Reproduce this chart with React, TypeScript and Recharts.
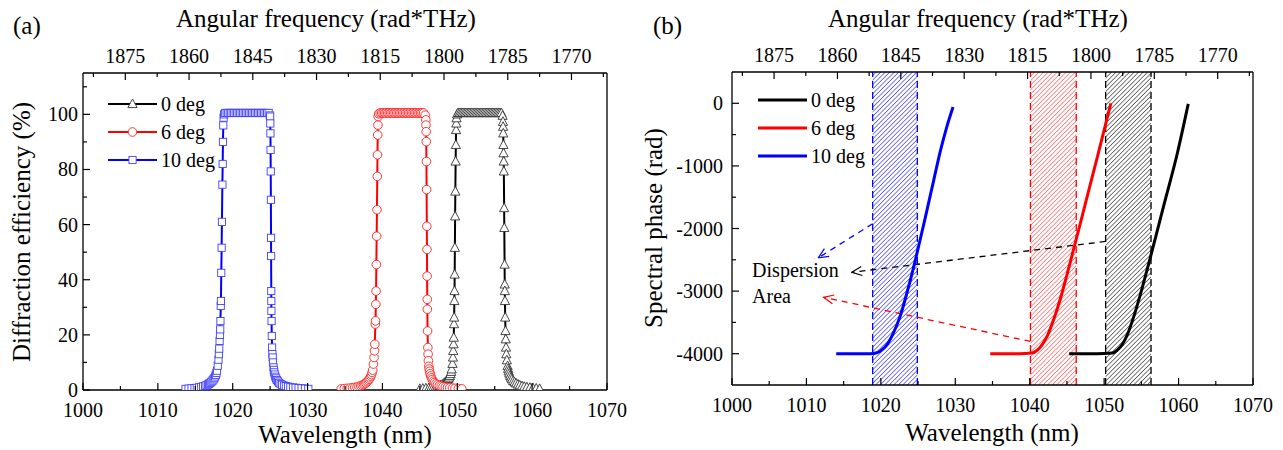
import React from 'react';
import { ComposedChart, Line, XAxis, YAxis, ReferenceArea, ReferenceLine, ReferenceDot, Legend } from 'recharts';

const FONT = '"Liberation Serif", "Times New Roman", serif';

type Pt = [number, number];

// axis ticks
const wlMajor = [1000, 1010, 1020, 1030, 1040, 1050, 1060, 1070];
const wlMinor = [1005, 1015, 1025, 1035, 1045, 1055, 1065];
const freqMajor = [1875, 1860, 1845, 1830, 1815, 1800, 1785, 1770];
const freqMinor = [1882.5, 1867.5, 1852.5, 1837.5, 1822.5, 1807.5, 1792.5, 1777.5, 1762.5];
const effMajor = [0, 20, 40, 60, 80, 100];
const effMinor = [10, 30, 50, 70, 90, 110];
const phaseMajor = [0, -1000, -2000, -3000, -4000];
const phaseMinor = [-500, -1500, -2500, -3500];

const seriesNames = ['0 deg', '6 deg', '10 deg'];

// (a) diffraction efficiency (%) vs wavelength (nm)
const eff0deg: Pt[] = [
  [1045.0, 0.4], [1045.4, 0.5], [1045.8, 0.6], [1046.2, 0.7], [1046.5, 0.8], [1046.8, 0.95], [1047.1, 1.1],
  [1047.35, 1.3], [1047.6, 1.5], [1047.8, 1.75], [1048.0, 2.0], [1048.2, 2.35], [1048.35, 2.7], [1048.5, 3.1],
  [1048.65, 3.5], [1048.8, 4.0], [1048.9, 4.5], [1049.0, 5.1], [1049.1, 5.8], [1049.18, 6.6], [1049.25, 7.5],
  [1049.35, 9.5], [1049.42, 11.8], [1049.46, 14.2],
  [1049.5, 16.6], [1049.53, 19], [1049.56, 23.9], [1049.58, 26.3], [1049.61, 32.3], [1049.63, 35.9], [1049.65, 41.9],
  [1049.68, 51.6], [1049.71, 63], [1049.74, 72], [1049.78, 82.9], [1049.81, 88.9], [1049.84, 94.3], [1049.87, 96.7],
  [1049.9, 98.6], [1049.97, 100],
  [1050.1, 100.5], [1050.3, 100.5], [1050.5, 100.5], [1050.7, 100.5], [1050.9, 100.5], [1051.1, 100.5],
  [1051.3, 100.5], [1051.5, 100.5], [1051.7, 100.5], [1051.9, 100.5], [1052.1, 100.5], [1052.3, 100.5],
  [1052.5, 100.5], [1052.7, 100.5], [1052.9, 100.5], [1053.1, 100.5], [1053.3, 100.5], [1053.5, 100.5],
  [1053.7, 100.5], [1053.9, 100.5], [1054.1, 100.5], [1054.3, 100.5], [1054.5, 100.5], [1054.7, 100.5],
  [1054.9, 100.5], [1055.1, 100.5], [1055.3, 100.5], [1055.5, 100.5], [1055.7, 100.5], [1055.9, 100.5],
  [1056.05, 99.5], [1056.1, 97.3], [1056.12, 95.5], [1056.14, 93.1], [1056.16, 88.9], [1056.18, 85.9], [1056.2, 82.9],
  [1056.22, 79.3], [1056.26, 66], [1056.28, 58.8], [1056.32, 45.5], [1056.34, 38.3], [1056.35, 35.9], [1056.37, 32.3],
  [1056.4, 26.3], [1056.44, 21.4], [1056.47, 18.4], [1056.51, 15.4], [1056.55, 13], [1056.62, 10.8], [1056.72, 8.7],
  [1056.79, 7.7], [1056.86, 6.8], [1056.95, 6.0], [1057.05, 5.2], [1057.17, 4.5], [1057.3, 3.9], [1057.47, 3.3],
  [1057.65, 2.8], [1057.85, 2.4], [1058.1, 2.0], [1058.35, 1.7], [1058.65, 1.4], [1058.95, 1.2], [1059.3, 1.0],
  [1059.7, 0.85], [1060.1, 0.7], [1060.55, 0.55], [1061.0, 0.4],
];

const eff6deg: Pt[] = [
  [1034.5, 0.4], [1034.9, 0.5], [1035.3, 0.6], [1035.7, 0.7], [1036.0, 0.8], [1036.3, 0.95], [1036.6, 1.1],
  [1036.85, 1.3], [1037.1, 1.5], [1037.3, 1.75], [1037.5, 2.0], [1037.65, 2.3], [1037.8, 2.6], [1037.95, 3.0],
  [1038.1, 3.4], [1038.22, 3.9], [1038.35, 4.4], [1038.45, 5.0], [1038.55, 5.6], [1038.62, 6.4], [1038.7, 7.2],
  [1038.8, 9.4], [1038.88, 11.8], [1038.94, 14.2],
  [1038.98, 16.6], [1039.05, 23.9], [1039.08, 25.1], [1039.12, 31.1], [1039.15, 35.9], [1039.19, 45.5], [1039.23, 55.8],
  [1039.27, 65.4], [1039.31, 77.5], [1039.34, 85.3], [1039.37, 92.5], [1039.4, 96.1], [1039.43, 99.2], [1039.5, 100.2],
  [1039.7, 100.5], [1039.9, 100.5], [1040.1, 100.5], [1040.3, 100.5], [1040.5, 100.5], [1040.7, 100.5],
  [1040.9, 100.5], [1041.1, 100.5], [1041.3, 100.5], [1041.5, 100.5], [1041.7, 100.5], [1041.9, 100.5],
  [1042.1, 100.5], [1042.3, 100.5], [1042.5, 100.5], [1042.7, 100.5], [1042.9, 100.5], [1043.1, 100.5],
  [1043.3, 100.5], [1043.5, 100.5], [1043.7, 100.5], [1043.9, 100.5], [1044.1, 100.5], [1044.3, 100.5],
  [1044.5, 100.5], [1044.7, 100.5], [1044.9, 100.5], [1045.1, 100.5], [1045.3, 100.5], [1045.5, 100.5],
  [1045.7, 99.7], [1045.8, 98], [1045.82, 96.1], [1045.84, 93.7], [1045.86, 90.1], [1045.88, 82.9], [1045.9, 72.7],
  [1045.93, 59.4], [1045.95, 51], [1045.97, 41.3], [1045.99, 32.9], [1046.0, 29.3], [1046.03, 21.4], [1046.07, 15.4],
  [1046.1, 13], [1046.14, 10.6], [1046.2, 8.6], [1046.25, 7.6], [1046.3, 6.8], [1046.37, 5.9], [1046.45, 5.1],
  [1046.55, 4.4], [1046.65, 3.8], [1046.8, 3.2], [1046.95, 2.7], [1047.15, 2.3], [1047.35, 1.9], [1047.6, 1.6],
  [1047.85, 1.4], [1048.1, 1.2], [1048.4, 1.0], [1048.7, 0.9], [1049.0, 0.8], [1049.35, 0.7], [1049.7, 0.6],
  [1050.15, 0.5], [1050.6, 0.4],
];

const eff10deg: Pt[] = [
  [1013.7, 0.4], [1014.1, 0.5], [1014.5, 0.6], [1014.9, 0.7], [1015.2, 0.8], [1015.5, 0.95], [1015.8, 1.1],
  [1016.05, 1.3], [1016.3, 1.5], [1016.5, 1.75], [1016.7, 2.0], [1016.85, 2.3], [1017.0, 2.6], [1017.15, 3.0],
  [1017.3, 3.4], [1017.43, 3.85], [1017.55, 4.3], [1017.65, 4.9], [1017.75, 5.5], [1017.83, 6.2], [1017.9, 7.0],
  [1018.0, 8.8], [1018.1, 11], [1018.15, 13],
  [1018.2, 15], [1018.25, 17.8], [1018.3, 20], [1018.33, 22], [1018.36, 25], [1018.4, 30.5], [1018.43, 32.3],
  [1018.47, 42.5], [1018.52, 51.6], [1018.56, 61], [1018.62, 74.5], [1018.66, 82], [1018.7, 90], [1018.74, 96],
  [1018.78, 98.8], [1018.85, 100],
  [1019.0, 100.5], [1019.2, 100.5], [1019.4, 100.5], [1019.6, 100.5], [1019.8, 100.5], [1020.0, 100.5],
  [1020.2, 100.5], [1020.4, 100.5], [1020.6, 100.5], [1020.8, 100.5], [1021.0, 100.5], [1021.2, 100.5],
  [1021.4, 100.5], [1021.6, 100.5], [1021.8, 100.5], [1022.0, 100.5], [1022.2, 100.5], [1022.4, 100.5],
  [1022.6, 100.5], [1022.8, 100.5], [1023.0, 100.5], [1023.2, 100.5], [1023.4, 100.5], [1023.6, 100.5],
  [1023.8, 100.5], [1024.0, 100.5], [1024.2, 100.5], [1024.4, 100.5], [1024.6, 100.5], [1024.8, 100.5],
  [1024.95, 99.6], [1025.0, 99.2], [1025.02, 96.7], [1025.04, 93.1], [1025.06, 87.1], [1025.08, 79.3], [1025.1, 69],
  [1025.12, 55.2], [1025.13, 48.6], [1025.15, 35.9], [1025.16, 32.3], [1025.17, 28.7], [1025.19, 25], [1025.22, 19.6],
  [1025.26, 15.4], [1025.3, 13], [1025.34, 11.8], [1025.38, 10], [1025.45, 8.2], [1025.5, 7.3], [1025.55, 6.4],
  [1025.62, 5.6], [1025.7, 4.8], [1025.8, 4.2], [1025.9, 3.6], [1026.05, 3.1], [1026.2, 2.6], [1026.4, 2.2],
  [1026.6, 1.9], [1026.85, 1.6], [1027.1, 1.4], [1027.4, 1.2], [1027.7, 1.0], [1028.05, 0.9], [1028.4, 0.8],
  [1028.8, 0.7], [1029.2, 0.6], [1029.65, 0.5], [1030.1, 0.4],
];

// (b) spectral phase (rad) vs wavelength (nm)
const phase0deg: Pt[] = [
  [1045.3, -4000], [1047.0, -4000], [1049.0, -4000], [1051.1, -3990], [1051.8, -3940], [1052.5, -3840],
  [1053.1, -3700], [1054.0, -3400], [1054.9, -3040], [1056.3, -2420], [1058.0, -1640], [1059.85, -790], [1061.3, -10],
];
const phase6deg: Pt[] = [
  [1034.7, -4000], [1036.5, -4000], [1038.5, -4000], [1040.3, -3990], [1041.0, -3945], [1041.7, -3850],
  [1042.35, -3720], [1043.2, -3460], [1044.1, -3130], [1045.0, -2740], [1045.9, -2330], [1046.8, -1920],
  [1047.7, -1500], [1049.1, -850], [1050.9, 0],
];
const phase10deg: Pt[] = [
  [1014.0, -4000], [1016.0, -4000], [1018.0, -4000], [1019.0, -3995], [1019.9, -3960], [1020.8, -3860],
  [1021.6, -3690], [1022.6, -3400], [1023.5, -3030], [1024.4, -2620], [1025.2, -2220], [1026.0, -1810],
  [1027.1, -1230], [1028.0, -760], [1028.9, -360], [1029.7, -60],
];

// dispersion areas (nm) and annotation arrows [from, to] in (nm, rad)
const band0deg = [1050.2, 1056.3];
const band6deg = [1040.1, 1046.25];
const band10deg = [1018.9, 1024.9];
const arrow0deg: Pt[] = [[1050.2, -2207], [1016.1, -2699]];
const arrow6deg: Pt[] = [[1040.1, -3804], [1012.3, -3099]];
const arrow10deg: Pt[] = [[1018.9, -1923], [1011.6, -2468]];
const noteLines = [
  { text: 'Dispersion', wl: 1002.7, phase: -2655 },
  { text: 'Area', wl: 1002.7, phase: -3071 },
];

const colors: Record<string, string> = { '0 deg': '#000000', '6 deg': '#ff0000', '10 deg': '#0000ff' };

// top axis is linear in angular frequency between the two wavelength ends
const OMEGA_1000 = 1884.96;
const OMEGA_1070 = 1761.64;
const freqToWl = (f: number) => 1000 + ((OMEGA_1000 - f) / (OMEGA_1000 - OMEGA_1070)) * 70;
const topTicks = [...freqMajor, ...freqMinor].map((f) => ({ wl: freqToWl(f), f, major: freqMajor.includes(f) }));

const rows = (pts: Pt[]) => pts.map(([wl, v]) => ({ wl, v }));

const MAJOR = 7;
const MINOR = 4;

const BottomTick = (props: any) => {
  const { x, y, payload } = props;
  const major = wlMajor.includes(payload.value);
  return (
    <g>
      <line x1={x} y1={y} x2={x} y2={y - (major ? MAJOR : MINOR)} stroke="#000" strokeWidth={1.2} />
      {major && (
        <text x={x} y={y + 27} textAnchor="middle" fontFamily={FONT} fontSize={20} fill="#000">
          {payload.value}
        </text>
      )}
    </g>
  );
};

const TopTick = (props: any) => {
  const { x, y, payload } = props;
  const t = topTicks.find((d) => Math.abs(d.wl - payload.value) < 1e-6);
  const major = t ? t.major : false;
  return (
    <g>
      <line x1={x} y1={y} x2={x} y2={y + (major ? MAJOR : MINOR)} stroke="#000" strokeWidth={1.2} />
      {major && t && (
        <text x={x} y={y - 10} textAnchor="middle" fontFamily={FONT} fontSize={20} fill="#000">
          {t.f}
        </text>
      )}
    </g>
  );
};

const makeLeftTick = (majors: number[], gap: number) => (props: any) => {
  const { x, y, payload } = props;
  const major = majors.includes(payload.value);
  return (
    <g>
      <line x1={x} y1={y} x2={x + (major ? MAJOR : MINOR)} y2={y} stroke="#000" strokeWidth={1.2} />
      {major && (
        <text x={x - gap} y={y} dy="0.35em" textAnchor="end" fontFamily={FONT} fontSize={20} fill="#000">
          {payload.value}
        </text>
      )}
    </g>
  );
};

const marker = (name: string, cx: number, cy: number, key?: string) => {
  if (name === '0 deg') {
    return (
      <path key={key} d={`M${cx},${cy - 5} L${cx + 4.6},${cy + 3.6} L${cx - 4.6},${cy + 3.6} Z`} fill="#fff" stroke="#333" strokeWidth={0.9} />
    );
  }
  if (name === '6 deg') {
    return <circle key={key} cx={cx} cy={cy} r={4.3} fill="#fff" stroke="#ff2020" strokeWidth={0.9} />;
  }
  return <rect key={key} x={cx - 3.6} y={cy - 3.6} width={7.2} height={7.2} fill="#fff" stroke="#4040ff" strokeWidth={0.9} />;
};

const dotFor = (name: string) => (p: any) => {
  if (p.cx == null || p.cy == null) return <g key={`e-${p.index}`} />;
  return marker(name, p.cx, p.cy, `d-${p.index}`);
};

const legendContent = (withMarkers: boolean) => (props: any) => {
  const payload: any[] = props.payload || [];
  const items = seriesNames.map((n) => payload.find((e) => e.value === n) || { value: n, color: colors[n] });
  return (
    <svg width={150} height={90} style={{ overflow: 'visible' }}>
      {items.map((e, i) => {
        const y = 16 + i * 28;
        return (
          <g key={e.value}>
            <line x1={8} y1={y} x2={57} y2={y} stroke={e.color} strokeWidth={withMarkers ? 2 : 3} />
            {withMarkers && marker(e.value, 32.5, y)}
            <text x={61} y={y} dy="0.35em" fontFamily={FONT} fontSize={20} fill="#000">
              {e.value}
            </text>
          </g>
        );
      })}
    </svg>
  );
};

const hatch = (id: string, color: string, opacity: number) => (
  <pattern id={id} patternUnits="userSpaceOnUse" width={3.2} height={3.2} patternTransform="rotate(45)">
    <line x1={0} y1={0} x2={0} y2={3.2} stroke={color} strokeWidth={1.3} strokeOpacity={opacity} />
  </pattern>
);

const head = (id: string, color: string) => (
  <marker id={id} viewBox="0 0 12 12" refX={11} refY={6} markerWidth={12} markerHeight={12} markerUnits="userSpaceOnUse" orient="auto">
    <path d="M1,1.5 L11,6 L1,10.5" fill="none" stroke={color} strokeWidth={1.2} />
  </marker>
);

const arrowShape = (color: string, id: string) => (p: any) => (
  <line x1={p.x1} y1={p.y1} x2={p.x2} y2={p.y2} stroke={color} strokeWidth={1.3} strokeDasharray="6 5" markerEnd={`url(#${id})`} />
);

const textStyle = { fontFamily: FONT, fill: '#000' };

const LeftPanel = () => (
  <ComposedChart width={640} height={450} margin={{ top: 43, right: 30, bottom: 20, left: 0 }} style={{ fontFamily: FONT }}>
    <XAxis xAxisId="b" type="number" dataKey="wl" domain={[1000, 1070]} allowDataOverflow ticks={[...wlMajor, ...wlMinor]}
      interval={0} tickSize={0} tickMargin={0} tickLine={false} tick={BottomTick} height={40}
      axisLine={{ stroke: '#000', strokeWidth: 1.3 }} />
    <XAxis xAxisId="t" orientation="top" type="number" dataKey="wl" domain={[1000, 1070]} allowDataOverflow
      ticks={topTicks.map((t) => t.wl)} interval={0} tickSize={0} tickMargin={0} tickLine={false} tick={TopTick} height={30}
      axisLine={{ stroke: '#000', strokeWidth: 1.3 }} />
    <YAxis yAxisId="l" type="number" domain={[0, 115]} allowDataOverflow ticks={[...effMajor, ...effMinor]} interval={0}
      tickSize={0} tickMargin={0} tickLine={false} tick={makeLeftTick(effMajor, 5)} width={83}
      axisLine={{ stroke: '#000', strokeWidth: 1.3 }} />
    <YAxis yAxisId="r" orientation="right" type="number" domain={[0, 115]} allowDataOverflow tick={false} tickLine={false}
      width={3} axisLine={{ stroke: '#000', strokeWidth: 1.3 }} />
    <Legend layout="vertical" align="center" verticalAlign="middle" content={legendContent(true)}
      wrapperStyle={{ position: 'absolute', left: 100, top: 88, width: 150, height: 90 }} />
    <Line xAxisId="t" yAxisId="l" data={rows(eff0deg)} dataKey="v" name="0 deg" type="linear" stroke={colors['0 deg']}
      strokeWidth={2} dot={dotFor('0 deg')} activeDot={false} isAnimationActive={false} />
    <Line xAxisId="b" yAxisId="r" data={rows(eff6deg)} dataKey="v" name="6 deg" type="linear" stroke={colors['6 deg']}
      strokeWidth={2} dot={dotFor('6 deg')} activeDot={false} isAnimationActive={false} />
    <Line xAxisId="b" yAxisId="l" data={rows(eff10deg)} dataKey="v" name="10 deg" type="linear" stroke={colors['10 deg']}
      strokeWidth={2} dot={dotFor('10 deg')} activeDot={false} isAnimationActive={false} />
    <text x={13} y={34} fontSize={25} {...textStyle}>(a)</text>
    <text x={176} y={27} fontSize={25} {...textStyle}>Angular frequency (rad*THz)</text>
    <text x={345} y={443} fontSize={25} textAnchor="middle" {...textStyle}>Wavelength (nm)</text>
    <text x={21} y={232} fontSize={25} textAnchor="middle" dominantBaseline="central" transform="rotate(-90, 21, 232)" {...textStyle}>
      Diffraction efficiency (%)
    </text>
  </ComposedChart>
);

const RightPanel = () => (
  <ComposedChart width={643} height={450} margin={{ top: 42, right: 27, bottom: 25, left: 0 }} style={{ fontFamily: FONT }}>
    <defs>
      {hatch('hatch0', '#000000', 0.8)}
      {hatch('hatch6', '#ff0000', 0.65)}
      {hatch('hatch10', '#0000ff', 0.8)}
      {head('head0', '#000000')}
      {head('head6', '#ff0000')}
      {head('head10', '#0000ff')}
    </defs>
    <XAxis xAxisId="b" type="number" dataKey="wl" domain={[1000, 1070]} allowDataOverflow ticks={[...wlMajor, ...wlMinor]}
      interval={0} tickSize={0} tickMargin={0} tickLine={false} tick={BottomTick} height={40}
      axisLine={{ stroke: '#000', strokeWidth: 1.3 }} />
    <XAxis xAxisId="t" orientation="top" type="number" dataKey="wl" domain={[1000, 1070]} allowDataOverflow
      ticks={topTicks.map((t) => t.wl)} interval={0} tickSize={0} tickMargin={0} tickLine={false} tick={TopTick} height={30}
      axisLine={{ stroke: '#000', strokeWidth: 1.3 }} />
    <YAxis yAxisId="l" type="number" domain={[-4500, 500]} allowDataOverflow ticks={[...phaseMajor, ...phaseMinor]} interval={0}
      tickSize={0} tickMargin={0} tickLine={false} tick={makeLeftTick(phaseMajor, 9)} width={92}
      axisLine={{ stroke: '#000', strokeWidth: 1.3 }} />
    <YAxis yAxisId="r" orientation="right" type="number" domain={[-4500, 500]} allowDataOverflow tick={false} tickLine={false}
      width={3} axisLine={{ stroke: '#000', strokeWidth: 1.3 }} />
    <ReferenceArea xAxisId="b" yAxisId="l" x1={band10deg[0]} x2={band10deg[1]} fill="url(#hatch10)" fillOpacity={1} stroke="none" />
    <ReferenceArea xAxisId="b" yAxisId="l" x1={band6deg[0]} x2={band6deg[1]} fill="url(#hatch6)" fillOpacity={1} stroke="none" />
    <ReferenceArea xAxisId="b" yAxisId="l" x1={band0deg[0]} x2={band0deg[1]} fill="url(#hatch0)" fillOpacity={1} stroke="none" />
    {[...band10deg.map((x) => [x, '#0000ff']), ...band6deg.map((x) => [x, '#ff0000']), ...band0deg.map((x) => [x, '#000000'])].map(
      ([x, c], i) => (
        <ReferenceLine key={`band-${i}`} xAxisId="b" yAxisId="l" x={x as number} stroke={c as string} strokeWidth={1.3} strokeDasharray="7 4" />
      ),
    )}
    <ReferenceLine xAxisId="b" yAxisId="l" segment={arrow10deg.map(([x, y]) => ({ x, y }))} shape={arrowShape('#0000ff', 'head10')} />
    <ReferenceLine xAxisId="b" yAxisId="l" segment={arrow0deg.map(([x, y]) => ({ x, y }))} shape={arrowShape('#000000', 'head0')} />
    <ReferenceLine xAxisId="b" yAxisId="l" segment={arrow6deg.map(([x, y]) => ({ x, y }))} shape={arrowShape('#ff0000', 'head6')} />
    {noteLines.map((n) => (
      <ReferenceDot key={n.text} xAxisId="b" yAxisId="l" x={n.wl} y={n.phase} r={0}
        shape={(p: any) => (
          <text x={p.cx} y={p.cy} dy="0.35em" fontSize={20} {...textStyle}>{n.text}</text>
        )} />
    ))}
    <Legend layout="vertical" align="center" verticalAlign="middle" content={legendContent(false)}
      wrapperStyle={{ position: 'absolute', left: 110, top: 84, width: 150, height: 90 }} />
    <Line xAxisId="t" yAxisId="l" data={rows(phase0deg)} dataKey="v" name="0 deg" type="monotone" stroke={colors['0 deg']}
      strokeWidth={3} dot={false} activeDot={false} isAnimationActive={false} />
    <Line xAxisId="b" yAxisId="r" data={rows(phase6deg)} dataKey="v" name="6 deg" type="monotone" stroke={colors['6 deg']}
      strokeWidth={3} dot={false} activeDot={false} isAnimationActive={false} />
    <Line xAxisId="b" yAxisId="l" data={rows(phase10deg)} dataKey="v" name="10 deg" type="monotone" stroke={colors['10 deg']}
      strokeWidth={3} dot={false} activeDot={false} isAnimationActive={false} />
    <text x={13} y={34} fontSize={25} {...textStyle}>(b)</text>
    <text x={188} y={27} fontSize={25} {...textStyle}>Angular frequency (rad*THz)</text>
    <text x={352} y={441} fontSize={25} textAnchor="middle" {...textStyle}>Wavelength (nm)</text>
    <text x={13} y={228} fontSize={25} textAnchor="middle" dominantBaseline="central" transform="rotate(-90, 13, 228)" {...textStyle}>
      Spectral phase (rad)
    </text>
  </ComposedChart>
);

export default function App() {
  return (
    <div style={{ position: 'absolute', left: 0, top: 0, width: 1283, height: 450, background: '#fff' }}>
      <div style={{ position: 'absolute', left: 0, top: 0 }}>
        <LeftPanel />
      </div>
      <div style={{ position: 'absolute', left: 640, top: 0 }}>
        <RightPanel />
      </div>
    </div>
  );
}
